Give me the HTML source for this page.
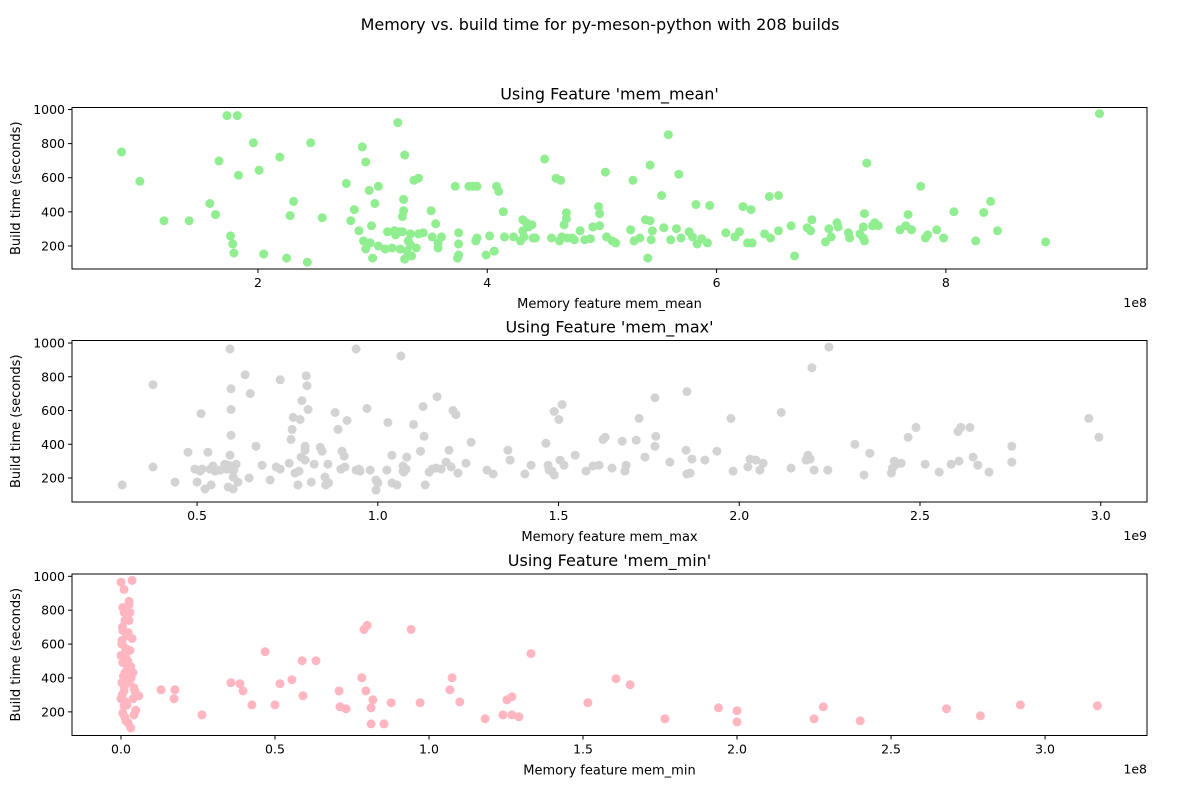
<!DOCTYPE html>
<html><head><meta charset="utf-8"><style>
body{margin:0;background:#fff;}
svg{display:block;font-family:"DejaVu Sans","Liberation Sans",sans-serif;}
</style></head><body>
<svg id="fig" width="1200" height="800" viewBox="0 0 1200 800">
<rect width="1200" height="800" fill="#fff"/>
<text x="600" y="30" text-anchor="middle" font-size="16">Memory vs. build time for py-meson-python with 208 builds</text>
</svg>
<script>
const p1x=[0.81,0.97,1.18,1.40,1.58,1.63,1.66,1.73,1.76,1.78,1.79,1.82,1.83,1.96,2.01,2.05,2.19,2.25,2.28,2.31,2.43,2.46,2.56,2.77,2.81,2.84,2.88,2.91,2.92,2.94,2.94,2.97,2.98,2.99,3.00,3.02,3.05,3.05,3.11,3.13,3.17,3.19,3.20,3.22,3.23,3.24,3.26,3.26,3.27,3.27,3.28,3.28,3.30,3.31,3.33,3.33,3.34,3.36,3.38,3.40,3.40,3.44,3.51,3.52,3.55,3.57,3.57,3.60,3.72,3.74,3.75,3.75,3.75,3.84,3.88,3.91,3.90,3.91,3.99,4.02,4.06,4.08,4.10,4.14,4.15,4.23,4.29,4.31,4.31,4.32,4.34,4.36,4.39,4.40,4.42,4.50,4.56,4.60,4.63,4.64,4.65,4.67,4.69,4.69,4.70,4.74,4.76,4.81,4.85,4.90,4.92,4.97,4.98,4.98,5.03,5.04,5.09,5.12,5.25,5.27,5.28,5.33,5.38,5.40,5.42,5.42,5.44,5.43,5.52,5.54,5.58,5.60,5.67,5.65,5.69,5.76,5.79,5.82,5.83,5.87,5.94,5.92,6.08,6.16,6.20,6.23,6.27,6.30,6.31,6.42,6.46,6.47,6.54,6.54,6.65,6.68,6.79,6.82,6.83,6.95,6.98,7.00,7.05,7.06,7.15,7.16,7.25,7.28,7.28,7.29,7.29,7.31,7.36,7.38,7.41,7.60,7.65,7.67,7.70,7.78,7.82,7.84,7.92,7.98,8.07,8.26,8.33,8.39,8.45,8.87,9.34];
const p1y=[751,579,348,348,449,384,698,964,259,212,159,964,615,805,644,153,721,129,378,461,105,805,366,567,348,413,289,781,230,692,182,526,218,318,129,449,550,200,182,283,188,289,265,923,283,182,283,372,473,407,733,123,170,230,271,206,141,585,188,597,271,277,407,253,330,188,218,253,550,129,147,277,212,550,550,550,230,247,147,259,170,550,520,401,253,253,230,289,354,253,336,312,324,247,247,710,247,597,230,585,253,324,395,360,247,247,236,289,236,242,312,431,390,318,633,253,230,218,295,585,230,247,354,129,674,348,289,236,496,307,852,236,621,301,247,283,253,443,212,242,437,218,277,253,283,431,218,413,218,271,490,247,496,289,318,141,307,289,354,224,301,253,336,312,277,247,271,247,312,390,230,686,318,336,318,295,318,384,295,550,247,265,295,247,401,230,396,461,289,224,976];
const p2x=[0.293,0.378,0.378,0.439,0.475,0.494,0.5,0.508,0.511,0.514,0.522,0.530,0.536,0.539,0.544,0.550,0.564,0.577,0.583,0.586,0.588,0.591,0.591,0.594,0.594,0.594,0.594,0.6,0.6,0.602,0.608,0.613,0.633,0.644,0.647,0.663,0.680,0.702,0.719,0.730,0.730,0.755,0.760,0.763,0.766,0.771,0.779,0.782,0.785,0.788,0.790,0.799,0.799,0.799,0.802,0.804,0.807,0.816,0.824,0.841,0.846,0.854,0.856,0.862,0.864,0.882,0.890,0.898,0.901,0.907,0.909,0.915,0.940,0.940,0.948,0.951,0.970,0.979,0.995,0.995,1.000,1.025,1.028,1.039,1.039,1.053,1.064,1.070,1.070,1.072,1.078,1.080,1.099,1.118,1.125,1.128,1.131,1.142,1.150,1.161,1.164,1.175,1.189,1.197,1.203,1.208,1.216,1.222,1.244,1.258,1.302,1.319,1.360,1.366,1.407,1.424,1.465,1.471,1.474,1.482,1.488,1.488,1.501,1.504,1.510,1.515,1.546,1.576,1.595,1.612,1.623,1.629,1.648,1.676,1.684,1.687,1.715,1.723,1.739,1.767,1.767,1.769,1.808,1.853,1.855,1.855,1.864,1.869,1.905,1.938,1.977,1.983,2.024,2.030,2.046,2.057,2.066,2.116,2.143,2.185,2.190,2.196,2.201,2.207,2.248,2.245,2.320,2.345,2.361,2.421,2.424,2.429,2.435,2.448,2.467,2.489,2.514,2.553,2.586,2.605,2.608,2.613,2.638,2.647,2.660,2.691,2.754,2.754,2.967,2.995];
const p2y=[159,265,753,176,353,253,176,241,582,253,135,353,253,159,271,241,247,282,253,147,276,335,965,253,453,606,729,206,135,247,282,176,812,200,700,388,276,188,265,253,782,288,429,488,559,229,159,241,547,324,659,388,365,306,806,747,606,176,282,382,359,206,159,282,171,588,488,253,359,329,265,541,965,247,253,241,612,247,188,129,171,247,529,171,335,159,923,271,241,235,253,324,518,359,624,447,159,235,253,259,682,253,294,365,265,600,576,229,288,412,247,224,365,306,224,276,406,276,247,241,218,594,547,306,635,276,335,241,271,276,429,441,259,418,241,276,424,553,324,676,388,447,294,365,712,224,229,312,306,359,553,241,265,312,306,247,288,588,259,306,335,312,853,247,976,247,400,218,347,229,259,300,282,288,441,500,282,235,282,476,300,500,500,324,276,235,388,294,553,441];
const p3x=[0.0,0.01,0.006,0.01,0.013,0.006,0.003,0.016,0.0,0.006,0.013,0.003,0.01,0.0,0.01,0.006,0.016,0.029,0.023,0.026,0.036,0.026,0.026,0.036,0.029,0.032,0.039,0.042,0.039,0.042,0.032,0.023,0.045,0.058,0.048,0.003,0.016,0.02,0.008,0.013,0.019,0.004,0.011,0.022,0.015,0.005,0.018,0.033,0.027,0.012,0.130,0.175,0.172,0.263,0.357,0.386,0.396,0.425,0.468,0.5,0.516,0.555,0.588,0.591,0.633,0.708,0.711,0.731,0.782,0.789,0.799,0.795,0.812,0.812,0.818,0.854,0.877,0.942,0.971,1.068,1.075,1.1,1.182,1.240,1.253,1.269,1.269,1.292,1.331,1.516,1.607,1.653,1.766,1.94,2.0,2.0,2.25,2.28,2.40,2.68,2.79,2.92,3.17];
const p3y=[965,923,816,787,739,680,621,574,533,491,431,372,324,277,236,194,147,787,668,834,976,852,739,633,562,467,431,342,277,182,105,135,324,295,210,600,560,450,410,260,240,300,350,500,520,700,650,400,380,170,330,330,277,182,372,366,324,241,555,241,366,390,502,295,502,324,230,218,401,686,710,324,224,129,271,129,254,686,254,330,401,259,159,182,271,289,182,171,544,254,396,360,159,224,206,141,159,230,147,218,177,241,236];
const xt1=[2,4,6,8], xt2=[0.5,1.0,1.5,2.0,2.5,3.0], xt3=[0.0,0.5,1.0,1.5,2.0,2.5,3.0], yt=[200,400,600,800,1000];
const NS='http://www.w3.org/2000/svg';
const svg=document.getElementById('fig');
function mk(tag,attrs,parent){const e=document.createElementNS(NS,tag);for(const k in attrs)e.setAttribute(k,attrs[k]);(parent||svg).appendChild(e);return e;}
const panels=[
 {top:107.5,bot:269,x0:0.378,x1:9.754,y0:65,y1:1011.7,xs:p1x,ys:p1y,xt:xt1,fmt:v=>String(v),color:'#90ee90',title:"Using Feature 'mem_mean'",xl:'Memory feature mem_mean',off:'1e8',key:'mean'},
 {top:340.5,bot:502,x0:0.154,x1:3.128,y0:57.8,y1:1015,xs:p2x,ys:p2y,xt:xt2,fmt:v=>v.toFixed(1),color:'#d3d3d3',title:"Using Feature 'mem_max'",xl:'Memory feature mem_max',off:'1e9',key:'max'},
 {top:574,bot:735.5,x0:-0.159,x1:3.331,y0:60.5,y1:1013.6,xs:p3x,ys:p3y,xt:xt3,fmt:v=>v.toFixed(1),color:'#ffb6c1',title:"Using Feature 'mem_min'",xl:'Memory feature mem_min',off:'1e8',key:'min'}];
const L=72,R=1147;
panels.forEach(p=>{
 const sx=v=>L+(v-p.x0)/(p.x1-p.x0)*(R-L);
 const sy=v=>p.bot-(v-p.y0)/(p.y1-p.y0)*(p.bot-p.top);
 const g=mk('g',{});
 
 
 const t=mk('text',{x:(L+R)/2,y:p.top-8,'text-anchor':'middle','font-size':16},g);t.textContent=p.title;
 
 
 for(let i=0;i<p.xs.length;i++){
  const c=mk('circle',{cx:sx(p.xs[i]).toFixed(1),cy:sy(p.ys[i]).toFixed(1),r:4.5,fill:p.color},g);
  
  
 }
 const fr=mk('rect',{x:L,y:p.top,width:R-L,height:p.bot-p.top,fill:'none',stroke:'#000','stroke-width':1},g);
 
 
 p.xt.forEach(v=>{const x=sx(v);mk('line',{x1:x,x2:x,y1:p.bot,y2:p.bot+4,stroke:'#000'},g);
  const tx=mk('text',{x:x,y:p.bot+18,'text-anchor':'middle','font-size':12.5},g);tx.textContent=p.fmt(v);
  
  });
 yt.forEach(v=>{const y=sy(v);mk('line',{x1:L-4,x2:L,y1:y,y2:y,stroke:'#000'},g);
  const ty=mk('text',{x:L-7,y:y+4.5,'text-anchor':'end','font-size':12.5},g);ty.textContent=v;
  
  });
 const xl=mk('text',{x:(L+R)/2,y:p.bot+39,'text-anchor':'middle','font-size':13},g);xl.textContent=p.xl;
 
 
 const cy=(p.top+p.bot)/2;
 const yl=mk('text',{x:20,y:cy,'text-anchor':'middle','font-size':13,transform:'rotate(-90 20 '+cy+')'},g);yl.textContent='Build time (seconds)';
 
 
 const of=mk('text',{x:R,y:p.bot+38,'text-anchor':'end','font-size':12.5},g);of.textContent=p.off;
 
 
});
</script>
</body></html>
